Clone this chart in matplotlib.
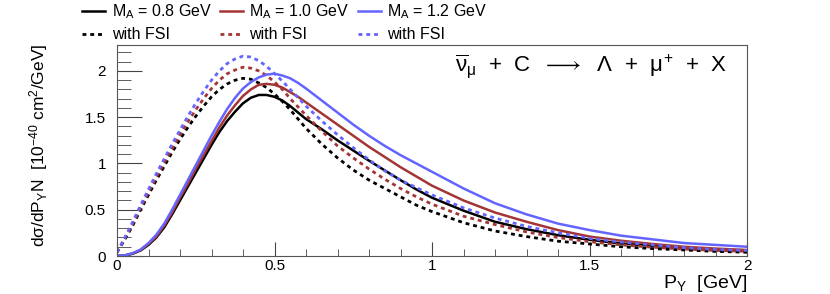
import numpy as np
import matplotlib
matplotlib.use("Agg")
import matplotlib.pyplot as plt
from matplotlib.ticker import MultipleLocator

plt.rcParams["font.family"] = ["Liberation Sans", "DejaVu Sans"]
plt.rcParams["mathtext.fontset"] = "custom"
plt.rcParams["mathtext.rm"] = "Liberation Sans"
plt.rcParams["mathtext.it"] = "Liberation Sans"
plt.rcParams["mathtext.bf"] = "Liberation Sans:bold"

# Lambda momentum grid [GeV]
p_lambda = [0.0, 0.025, 0.05, 0.075, 0.1, 0.125, 0.15, 0.175, 0.2, 0.225,
            0.25, 0.275, 0.3, 0.325, 0.35, 0.375, 0.4, 0.425, 0.45, 0.475,
            0.5, 0.525, 0.55, 0.575, 0.6, 0.65, 0.7, 0.75, 0.8, 0.85,
            0.9, 0.95, 1.0, 1.1, 1.2, 1.3, 1.4, 1.5, 1.6, 1.7,
            1.8, 1.9, 2.0]

# dsigma/dP [1e-40 cm^2/GeV], no FSI
ma08 = [0.0, 0.005, 0.025, 0.06, 0.12, 0.20, 0.31, 0.45, 0.60, 0.75,
        0.90, 1.05, 1.20, 1.34, 1.46, 1.56, 1.65, 1.71, 1.74, 1.74,
        1.72, 1.68, 1.62, 1.55, 1.48, 1.37, 1.25, 1.14, 1.03, 0.925,
        0.82, 0.72, 0.63, 0.49, 0.37, 0.29, 0.225, 0.175, 0.135, 0.11,
        0.09, 0.07, 0.055]
ma10 = [0.0, 0.006, 0.028, 0.065, 0.13, 0.21, 0.33, 0.47, 0.63, 0.78,
        0.94, 1.09, 1.24, 1.39, 1.52, 1.63, 1.73, 1.80, 1.85, 1.86,
        1.85, 1.82, 1.77, 1.72, 1.66, 1.54, 1.42, 1.30, 1.18, 1.07,
        0.96, 0.86, 0.76, 0.60, 0.47, 0.37, 0.28, 0.21, 0.165, 0.13,
        0.10, 0.08, 0.065]
ma12 = [0.0, 0.007, 0.03, 0.07, 0.14, 0.23, 0.35, 0.50, 0.66, 0.82,
        0.98, 1.14, 1.30, 1.45, 1.59, 1.71, 1.81, 1.88, 1.93, 1.96,
        1.97, 1.95, 1.92, 1.87, 1.81, 1.68, 1.55, 1.42, 1.30, 1.19,
        1.09, 1.00, 0.91, 0.73, 0.57, 0.45, 0.35, 0.28, 0.22, 0.18,
        0.14, 0.12, 0.10]

# with FSI
ma08_fsi = [0.04, 0.18, 0.33, 0.50, 0.66, 0.82, 0.97, 1.12, 1.26, 1.39,
            1.51, 1.62, 1.72, 1.80, 1.86, 1.90, 1.92, 1.91, 1.87, 1.82,
            1.75, 1.67, 1.58, 1.48, 1.38, 1.21, 1.06, 0.93, 0.82, 0.73,
            0.64, 0.55, 0.48, 0.36, 0.27, 0.21, 0.16, 0.13, 0.10, 0.08,
            0.065, 0.05, 0.04]
ma10_fsi = [0.04, 0.19, 0.35, 0.52, 0.69, 0.85, 1.01, 1.16, 1.31, 1.45,
            1.58, 1.70, 1.81, 1.90, 1.97, 2.01, 2.04, 2.03, 2.00, 1.95,
            1.88, 1.80, 1.70, 1.61, 1.52, 1.35, 1.19, 1.06, 0.94, 0.83,
            0.73, 0.64, 0.56, 0.43, 0.34, 0.26, 0.20, 0.155, 0.12, 0.095,
            0.075, 0.06, 0.05]
ma12_fsi = [0.04, 0.20, 0.37, 0.55, 0.72, 0.89, 1.05, 1.21, 1.36, 1.51,
            1.65, 1.78, 1.90, 2.00, 2.08, 2.13, 2.16, 2.15, 2.11, 2.05,
            1.97, 1.89, 1.80, 1.71, 1.62, 1.46, 1.31, 1.17, 1.04, 0.92,
            0.82, 0.74, 0.66, 0.52, 0.41, 0.32, 0.25, 0.19, 0.15, 0.12,
            0.09, 0.07, 0.06]

black = "black"
red = "#a33535"
blue = "#6464ff"
dots = (0, (1.4, 1.4))

fig = plt.figure(figsize=(8.3, 2.94), dpi=100)
ax = fig.add_axes([117 / 830, 38 / 294, 630 / 830, 211 / 294])

ax.plot(p_lambda, ma08, color=black, lw=1.8, label=r"M$_{\mathrm{A}}$ = 0.8 GeV")
ax.plot(p_lambda, ma08_fsi, color=black, lw=2.0, ls=dots, label="with FSI")
ax.plot(p_lambda, ma10, color=red, lw=1.8, label=r"M$_{\mathrm{A}}$ = 1.0 GeV")
ax.plot(p_lambda, ma10_fsi, color=red, lw=2.0, ls=dots, label="with FSI")
ax.plot(p_lambda, ma12, color=blue, lw=1.8, label=r"M$_{\mathrm{A}}$ = 1.2 GeV")
ax.plot(p_lambda, ma12_fsi, color=blue, lw=2.0, ls=dots, label="with FSI")

ax.set_xlim(0, 2)
ax.set_ylim(0, 2.28)
ax.xaxis.set_major_locator(MultipleLocator(0.5))
ax.xaxis.set_minor_locator(MultipleLocator(0.1))
ax.yaxis.set_major_locator(MultipleLocator(0.5))
ax.yaxis.set_minor_locator(MultipleLocator(0.1))
ax.xaxis.set_major_formatter(lambda v, pos: f"{v:g}")
ax.yaxis.set_major_formatter(lambda v, pos: f"{v:g}")
ax.tick_params(which="both", direction="in", top=False, right=False,
               labelsize=11, color="#444444")
ax.tick_params(axis="y", which="major", length=18, pad=8)
ax.tick_params(axis="y", which="minor", length=10)
ax.tick_params(axis="x", which="major", length=10, pad=2)
ax.tick_params(axis="x", which="minor", length=5)
for s in ax.spines.values():
    s.set_linewidth(0.8)
    s.set_color("#555555")

ax.set_xlabel(r"P$_{\mathrm{Y}}$  [GeV]", fontsize=14, loc="right", labelpad=0)
fig.text(0.047, 0.505, r"d$\sigma$/dP$_{\mathrm{Y}}$N  [10$^{-40}$ cm$^{2}$/GeV]",
         rotation=90, fontsize=12.5, ha="center", va="center")

ax.text(0.968, 0.9,
        r"$\overline{\nu}_{\mu}$  +  C  $\longrightarrow$  $\Lambda$  +  $\mu^{+}$  +  X",
        transform=ax.transAxes, ha="right", va="center", fontsize=16)

fig.legend(loc="upper left", bbox_to_anchor=(74 / 830, 1.02), ncol=3,
           frameon=False, fontsize=11.5, handlelength=1.45, handletextpad=0.4,
           columnspacing=0.5, labelspacing=0.4, borderaxespad=0.1)

fig.savefig("out.png", dpi=100)
